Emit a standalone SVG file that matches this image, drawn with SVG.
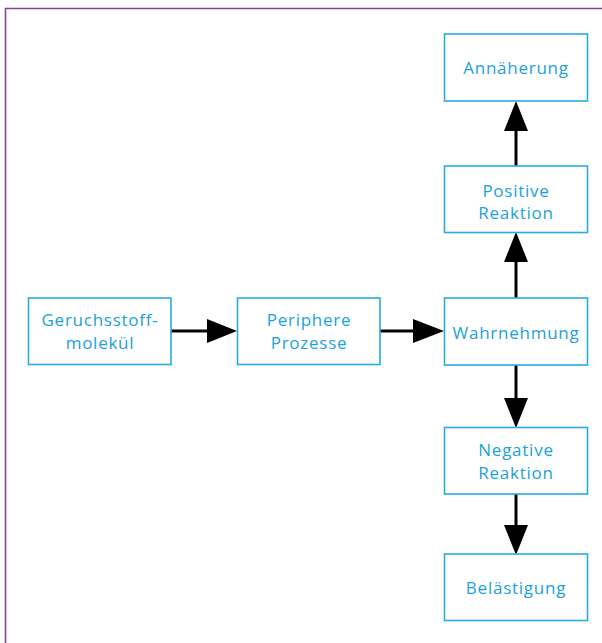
<svg xmlns="http://www.w3.org/2000/svg" width="602" height="643" viewBox="0 0 602 643">
<style>
.box{fill:#fff;stroke:#29abe2;stroke-width:1.6}
.t{font-family:"Open Sans","Noto Sans",sans-serif;font-size:17px;letter-spacing:0.75px;fill:#1ba1dc;text-anchor:middle}
.c{stroke:#000;stroke-width:3;fill:none}
.h{fill:#000}
</style>
<rect width="602" height="643" fill="#fff"/>
<path d="M5.5 643 V8.5 H602" fill="none" stroke="#8e3f98" stroke-width="1.6"/>
<g id="connectors">
<line class="c" x1="171" y1="331" x2="209" y2="331"/>
<polygon class="h" points="207,319 237,331 207,343"/>
<line class="c" x1="380" y1="331" x2="415" y2="331"/>
<polygon class="h" points="413,319 444,331 413,343"/>
<line class="c" x1="516" y1="298" x2="516" y2="260"/>
<polygon class="h" points="504,262 516,232 528,262"/>
<line class="c" x1="516" y1="166" x2="516" y2="129"/>
<polygon class="h" points="504,131 516,101 528,131"/>
<line class="c" x1="516" y1="365" x2="516" y2="400"/>
<polygon class="h" points="504,398 516,428 528,398"/>
<line class="c" x1="516" y1="494" x2="516" y2="527"/>
<polygon class="h" points="504,525 516,555 528,525"/>
</g>
<g id="n-geruch"><rect class="box" x="28.5" y="298" width="142.5" height="66.5"/><text class="t" x="100" y="326">Geruchsstoff-</text><text class="t" x="100" y="348.5">molekül</text></g>
<g id="n-periphere"><rect class="box" x="237.5" y="298" width="142.5" height="66.5"/><text class="t" x="309" y="326">Periphere</text><text class="t" x="309" y="348.5">Prozesse</text></g>
<g id="n-wahr"><rect class="box" x="444.5" y="298" width="143" height="67"/><text class="t" x="516" y="338.5">Wahrnehmung</text></g>
<g id="n-pos"><rect class="box" x="444.5" y="166" width="143" height="66.5"/><text class="t" x="516" y="197">Positive</text><text class="t" x="516" y="219">Reaktion</text></g>
<g id="n-ann"><rect class="box" x="444.5" y="34" width="143" height="67"/><text class="t" x="516" y="73.5">Annäherung</text></g>
<g id="n-neg"><rect class="box" x="444.5" y="427.5" width="143" height="66.5"/><text class="t" x="516" y="456">Negative</text><text class="t" x="516" y="478.5">Reaktion</text></g>
<g id="n-bel"><rect class="box" x="444.5" y="554" width="143" height="66.5"/><text class="t" x="516" y="593.5">Belästigung</text></g>
</svg>
